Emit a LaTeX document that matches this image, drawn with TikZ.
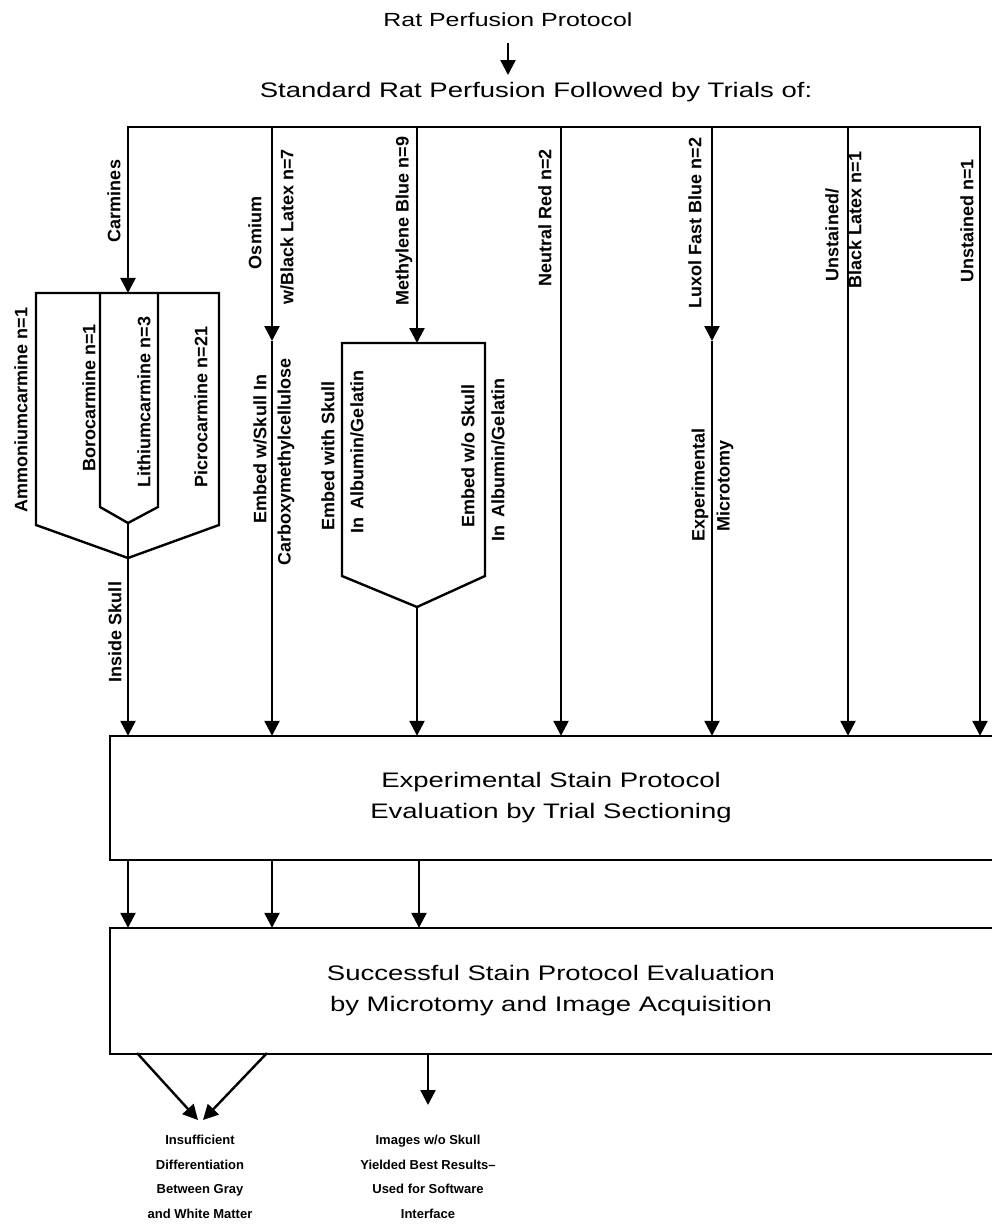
\documentclass[tikz,border=0pt]{standalone}
\usepackage{fontspec}
\setmainfont{Liberation Sans}
\newfontfamily\widef{Liberation Sans}[FakeStretch=1.31]
\usetikzlibrary{arrows.meta}
\begin{document}
\begin{tikzpicture}[x=1pt,y=-1pt,
  line width=2.4pt,
  >={Triangle[width=15pt,length=15pt]},
  main/.style={font=\widef\fontsize{21}{31}\selectfont, inner sep=3pt},
  lbl/.style={rotate=90, font=\fontsize{18}{21}\selectfont\bfseries, inner sep=0pt},
  note/.style={font=\fontsize{13}{24.5}\selectfont\bfseries, align=center, inner sep=0pt},
  openbox/.style={main, align=center, minimum width=880pt, inner sep=0pt}
]
\useasboundingbox (0,0) rectangle (991,1230);

% ---- top ----
\node[main, font=\widef\fontsize{19}{23}\selectfont] (title) at (508,20) {Rat Perfusion Protocol};
\node[main] (std) at (536,92) {Standard Rat Perfusion Followed by Trials of:};
\draw[->, shorten <=12pt, shorten >=3pt] (title.south) -- (title.south |- std.north);

% ---- boxes ----
\node[openbox, minimum height=122pt] (box1) at (551,798) {Experimental Stain Protocol\\Evaluation by Trial Sectioning};
\draw (box1.north east) -- (box1.north west) -- (box1.south west) -- (box1.south east);
\node[openbox, minimum height=124pt] (box2) at (551,991) {Successful Stain Protocol Evaluation\\by Microtomy and Image Acquisition};
\draw (box2.north east) -- (box2.north west) -- (box2.south west) -- (box2.south east);

% ---- branch bar ----
\coordinate (k1) at (128,127);
\coordinate (k2) at (272,127);
\coordinate (k3) at (417,127);
\coordinate (k4) at (561,127);
\coordinate (k5) at (712,127);
\coordinate (k6) at (848,127);
\coordinate (k7) at (980,127);
\draw[line cap=rect] (k1) -- (k7);

% ---- Carmines ----
\coordinate (cTL) at (36,293);
\coordinate (cTR) at (219,293);
\coordinate (cBR) at (219,525);
\coordinate (cA) at (128,558);
\coordinate (cBL) at (36,525);
\coordinate (iTL) at (100,293);
\coordinate (iBL) at (100,507);
\coordinate (iA) at (128,523);
\coordinate (iBR) at (158,507);
\coordinate (iTR) at (158,293);
\draw[->] (k1) -- (k1 |- cTL);
\draw (cTL) -- (cTR) -- (cBR) -- (cA) -- (cBL) -- cycle;
\draw (iTL) -- (iBL) -- (iA) -- (iBR) -- (iTR);
\draw (iA) -- (cA);
\draw[->] (cA) -- (cA |- box1.north);

% ---- Osmium ----
\coordinate (oM) at (272,341);
\draw[->] (k2) -- (oM);
\draw[->] (oM) -- (oM |- box1.north);

% ---- Methylene Blue ----
\coordinate (mTL) at (342,343);
\coordinate (mT) at (417,343);
\coordinate (mTR) at (485,343);
\coordinate (mBR) at (485,576);
\coordinate (mA) at (417,607);
\coordinate (mBL) at (342,576);
\draw[->] (k3) -- (mT);
\draw (mTL) -- (mTR) -- (mBR) -- (mA) -- (mBL) -- cycle;
\draw[->] (mA) -- (mA |- box1.north);

% ---- Neutral Red ----
\draw[->] (k4) -- (k4 |- box1.north);

% ---- Luxol ----
\coordinate (lM) at (712,341);
\draw[->] (k5) -- (lM);
\draw[->] (lM) -- (lM |- box1.north);

% ---- Unstained ----
\draw[->] (k6) -- (k6 |- box1.north);
\draw[->] (k7) -- (k7 |- box1.north);

% ---- between boxes ----
\draw[->] (box1.south -| k1) -- (box2.north -| k1);
\draw[->] (box1.south -| k2) -- (box2.north -| k2);
\draw[->] ([xshift=2pt]box1.south -| k3) -- ([xshift=2pt]box2.north -| k3);

% ---- labels ----
\node[lbl] (carm) at (114,201) {Carmines};
\node[lbl] (amm) at (21,410) {Ammoniumcarmine n=1};
\node[lbl] (boro) at (89,398) {Borocarmine n=1};
\node[lbl] (lith) at (144,402) {Lithiumcarmine n=3};
\node[lbl] (picro) at (201,407) {Picrocarmine n=21};
\node[lbl] (inside) at (115,632) {Inside Skull};
\node[lbl] (osm) at (255,233) {Osmium};
\node[lbl] (osmb) at (287,227) {w/Black Latex n=7};
\node[lbl] (emba) at (260,449) {Embed w/Skull In};
\node[lbl] (embab) at (286,462) {Carboxymethylcellulose};
\node[lbl] (meth) at (404,221) {Methylene Blue n=9};
\node[lbl] (embb) at (328,456) {Embed with Skull};
\node[lbl] (embbb) at (357,452) {In \kern3pt Albumin/Gelatin};
\node[lbl] (embc) at (468,456) {Embed w/o Skull};
\node[lbl] (embcb) at (498,460) {In \kern3pt Albumin/Gelatin};
\node[lbl] (neut) at (545,218) {Neutral Red n=2};
\node[lbl] (lux) at (695,223) {Luxol Fast Blue n=2};
\node[lbl] (expm) at (700,485) {Experimental};
\node[lbl] (micro) at (725,486) {Microtomy};
\node[lbl] (unsa) at (832,235) {Unstained/};
\node[lbl] (unsab) at (855,220) {Black Latex n=1};
\node[lbl] (unsb) at (967,221) {Unstained n=1};

% ---- results ----
\node[note] (insuf) at (200,1177) {Insufficient\\Differentiation\\Between Gray\\and White Matter};
\node[note] (imgs) at (428,1177) {Images w/o Skull\\Yielded Best Results–\\Used for Software\\Interface};
\coordinate (dLs) at (137,1053);
\coordinate (dLe) at (198,1120);
\coordinate (dRs) at (267,1053);
\coordinate (dRe) at (203,1120);
\coordinate (vS) at (428,1053);
\coordinate (vE) at (428,1105);
\draw[->] (dLs) -- (dLe);
\draw[->] (dRs) -- (dRe);
\draw[->] (vS) -- (vE);
\end{tikzpicture}
\end{document}
